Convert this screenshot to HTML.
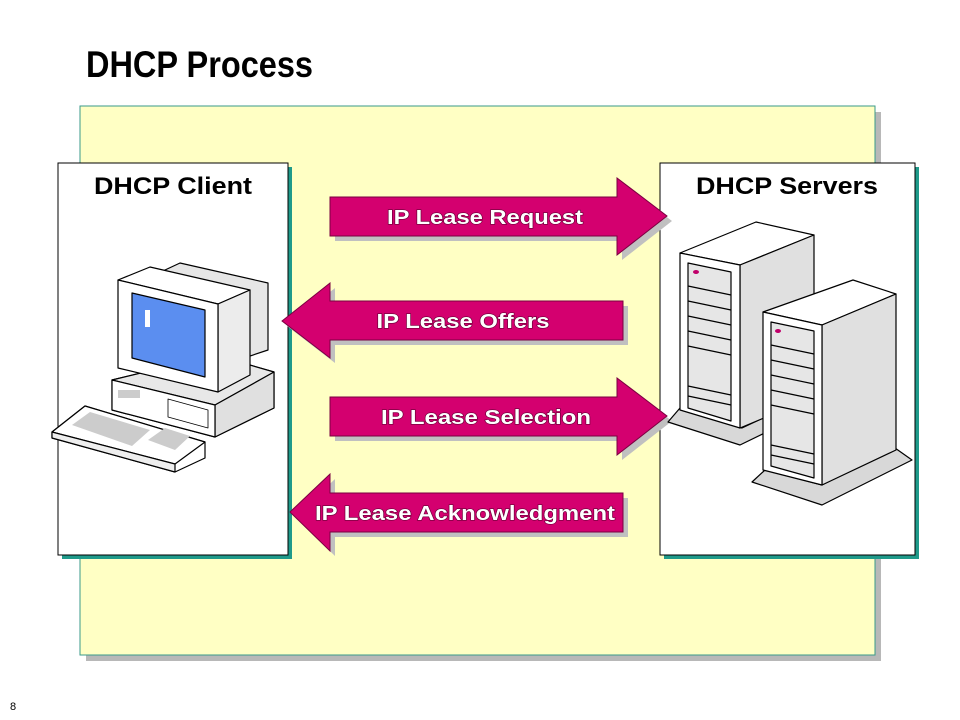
<!DOCTYPE html>
<html><head><meta charset="utf-8"><style>
html,body{margin:0;padding:0;background:#fff;width:960px;height:720px;overflow:hidden}
text{font-family:"Liberation Sans",Arial,sans-serif;font-weight:bold}
</style></head><body>
<svg width="960" height="720" viewBox="0 0 960 720" xmlns="http://www.w3.org/2000/svg">
<text x="86" y="77" font-size="37" textLength="227" lengthAdjust="spacingAndGlyphs" fill="#000">DHCP Process</text>
<!-- main yellow panel -->
<rect x="86" y="112" width="795" height="549" fill="#b8b8b8"/>
<rect x="80" y="106" width="795" height="549" fill="#ffffc4" stroke="#3a9a8a" stroke-width="1"/>
<!-- client box -->
<rect x="62" y="167" width="230" height="392" fill="#1f9a8a"/>
<rect x="58" y="163" width="230" height="392" fill="#fff" stroke="#000" stroke-width="1"/>
<text x="173" y="194" font-size="24" text-anchor="middle" textLength="158" lengthAdjust="spacingAndGlyphs">DHCP Client</text>
<!-- server box -->
<rect x="664" y="167" width="255" height="392" fill="#1f9a8a"/>
<rect x="660" y="163" width="255" height="392" fill="#fff" stroke="#000" stroke-width="1"/>
<text x="787" y="194" font-size="24" text-anchor="middle" textLength="182" lengthAdjust="spacingAndGlyphs">DHCP Servers</text>

<!-- arrows -->
<g stroke="#7a0040" stroke-width="1">
<polygon points="335,202 622,202 622,183 672,221 622,260 622,241 335,241" fill="#c0c0c0" stroke="none"/>
<polygon points="330,197 617,197 617,178 667,216 617,255 617,236 330,236" fill="#d4006f"/>
<polygon points="287,326 335,288 335,306 628,306 628,345 335,345 335,363" fill="#c0c0c0" stroke="none"/>
<polygon points="282,321 330,283 330,301 623,301 623,340 330,340 330,358" fill="#d4006f"/>
<polygon points="335,402 622,402 622,383 672,421 622,460 622,441 335,441" fill="#c0c0c0" stroke="none"/>
<polygon points="330,397 617,397 617,378 667,416 617,455 617,436 330,436" fill="#d4006f"/>
<polygon points="295,517 335,479 335,498 628,498 628,537 335,537 335,556" fill="#c0c0c0" stroke="none"/>
<polygon points="290,512 330,474 330,493 623,493 623,532 330,532 330,551" fill="#d4006f"/>
</g>
<g font-size="20" fill="#fff" text-anchor="middle" style="paint-order:stroke" stroke="#6a0038" stroke-width="1.2">
<text x="485" y="224" textLength="196" lengthAdjust="spacingAndGlyphs">IP Lease Request</text>
<text x="463" y="328" textLength="173" lengthAdjust="spacingAndGlyphs">IP Lease Offers</text>
<text x="486" y="424" textLength="210" lengthAdjust="spacingAndGlyphs">IP Lease Selection</text>
<text x="465" y="520" textLength="300" lengthAdjust="spacingAndGlyphs">IP Lease Acknowledgment</text>
</g>

<!-- computer -->
<g stroke="#000" stroke-width="1.2" stroke-linejoin="round">
<!-- base -->
<polygon points="112,380 215,355 274,372 274,408 215,437 112,410" fill="#fff"/>
<polygon points="112,380 215,405 274,372 215,355" fill="#e8e8e8"/>
<polygon points="215,405 274,372 274,408 215,437" fill="#e0e0e0"/>
<polygon points="112,380 215,405 215,437 112,410" fill="#fff"/>
<rect x="118" y="390" width="22" height="8" fill="#ccc" stroke="none"/>
<polygon points="168,399 208,410 208,428 168,417" fill="#fff" stroke-width="0.8"/>
<!-- monitor back -->
<polygon points="150,277 180,263 268,283 268,350 232,362 200,340" fill="#e6e6e6"/>
<!-- monitor -->
<polygon points="118,280 150,267 250,290 218,304" fill="#fff"/>
<polygon points="218,304 250,290 250,375 218,392" fill="#ececec"/>
<polygon points="118,280 218,304 218,392 118,368" fill="#fff"/>
<polygon points="132,293 205,310 205,377 132,358" fill="#5b8ef0"/>
<rect x="145" y="310" width="5" height="17" fill="#fff" stroke="none"/>
<!-- keyboard -->
<polygon points="52,432 85,406 205,442 205,458 175,472 52,438" fill="#fff"/>
<polygon points="52,432 175,464 205,442 85,406" fill="#fff"/>
<polygon points="52,432 175,464 175,472 52,438" fill="#eee"/>
<polygon points="72,425 90,412 150,430 132,446" fill="#ccc" stroke="none"/>
<polygon points="148,440 165,428 190,436 175,450" fill="#ccc" stroke="none"/>
</g>

<!-- servers -->
<g stroke="#000" stroke-width="1.2" stroke-linejoin="round">
<!-- server 1 -->
<polygon points="668,422 740,445 812,410 812,395 742,428 680,408" fill="#d8d8d8"/>
<polygon points="680,253 756,222 814,235 740,265" fill="#fff"/>
<polygon points="740,265 814,235 814,397 740,428" fill="#e0e0e0"/>
<polygon points="680,253 740,265 740,428 680,410" fill="#fff"/>
<polygon points="688,263 731,272 731,421 688,408" fill="#e6e6e6"/>
<ellipse cx="696" cy="272" rx="3" ry="2" fill="#c0006a" stroke="none"/>
<line x1="688" y1="286" x2="731" y2="295"/><line x1="688" y1="301" x2="731" y2="310"/>
<line x1="688" y1="316" x2="731" y2="325"/><line x1="688" y1="331" x2="731" y2="340"/>
<line x1="688" y1="346" x2="731" y2="355"/><line x1="688" y1="386" x2="731" y2="395"/>
<line x1="688" y1="396" x2="731" y2="405"/>
<!-- server 2 -->
<polygon points="752,482 822,505 912,460 895,448 822,485 765,470" fill="#d8d8d8"/>
<polygon points="763,312 853,280 896,294 822,325" fill="#fff"/>
<polygon points="822,325 896,294 896,450 822,485" fill="#e0e0e0"/>
<polygon points="763,312 822,325 822,485 763,470" fill="#fff"/>
<polygon points="771,322 814,331 814,478 771,466" fill="#e6e6e6"/>
<ellipse cx="778" cy="331" rx="3" ry="2" fill="#c0006a" stroke="none"/>
<line x1="771" y1="345" x2="814" y2="354"/><line x1="771" y1="360" x2="814" y2="369"/>
<line x1="771" y1="375" x2="814" y2="384"/><line x1="771" y1="390" x2="814" y2="399"/>
<line x1="771" y1="405" x2="814" y2="414"/><line x1="771" y1="445" x2="814" y2="454"/>
<line x1="771" y1="455" x2="814" y2="464"/>
</g>

<text x="10" y="710" font-size="11" font-weight="normal" style="font-weight:normal">8</text>
</svg>
</body></html>
